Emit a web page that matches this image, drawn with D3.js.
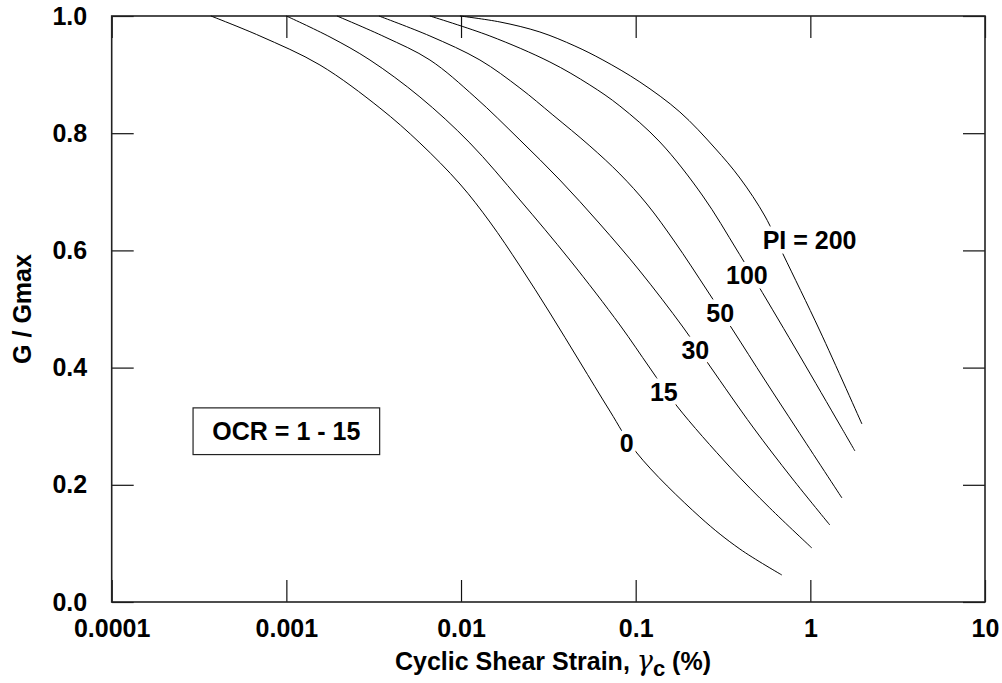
<!DOCTYPE html>
<html>
<head>
<meta charset="utf-8">
<script src="https://cdn.jsdelivr.net/npm/d3@7"></script>
<style>
  html, body { margin: 0; padding: 0; background: #fff; }
  svg { display: block; }
  text { font-family: "Liberation Sans", Arial, Helvetica, sans-serif; fill: #000; }
</style>
</head>
<body>
<svg id="chart" width="1002" height="683"></svg>
<script>
// ---- data ----
const xTickValues = [0.0001, 0.001, 0.01, 0.1, 1, 10];
const xTickLabels = ["0.0001", "0.001", "0.01", "0.1", "1", "10"];
const yTickValues = [0.0, 0.2, 0.4, 0.6, 0.8, 1.0];
const yTickLabels = ["0.0", "0.2", "0.4", "0.6", "0.8", "1.0"];

const piNames = ["0", "15", "30", "50", "100", "PI = 200"];

const strainPI0 = [0.00037, 0.000706, 0.001557, 0.003433, 0.005817, 0.00986, 0.01463, 0.02174, 0.03228, 0.04793, 0.07117, 0.1016, 0.2331, 0.3950, 0.6868];
const gPI0      = [1.0,     0.9659,   0.9164,   0.8430,   0.7833,   0.7133,  0.6485,  0.5734,  0.4932,  0.4096,  0.3259,  0.2543, 0.1451, 0.0904, 0.0461];

const strainPI15 = [0.001, 0.001777, 0.00301, 0.005817, 0.01124, 0.02174, 0.04201, 0.0812, 0.1206, 0.1721, 0.3461, 0.5863, 1.020];
const gPI15      = [1.0,   0.9642,   0.9249,  0.8618,   0.7833,  0.6860,  0.5836,  0.4727, 0.3993, 0.3345, 0.2304, 0.1604, 0.0922];

const strainPI30 = [0.001949, 0.003667, 0.006637, 0.01201, 0.02174, 0.03682, 0.06239, 0.1057, 0.1863, 0.2659, 0.4688, 0.7836, 1.293];
const gPI30      = [1.0,      0.9642,   0.9249,   0.8618,  0.7884,  0.7201,  0.6451,  0.5648, 0.4693, 0.4027, 0.2986, 0.2116, 0.1314];

const strainPI50 = [0.003389, 0.006637, 0.01283, 0.02174, 0.03357, 0.05467, 0.0812, 0.1159, 0.1677, 0.2556, 0.3600, 0.5491, 0.8369, 1.517];
const gPI50      = [1.0,      0.9659,   0.9249,  0.8771,  0.8311,  0.7782,  0.7304, 0.6792, 0.6143, 0.5324, 0.4642, 0.3788, 0.2952, 0.1775];

const strainPI100 = [0.006637, 0.01463, 0.03228, 0.05467, 0.0812, 0.1376, 0.2424, 0.3796, 0.5007, 0.8708, 1.477, 1.800];
const gPI100      = [1.0,      0.9659,  0.9215,  0.8823,  0.8464, 0.7850, 0.6928, 0.6007, 0.5410, 0.4198, 0.3020, 0.2577];

const strainPI200 = [0.00986, 0.0167, 0.02829, 0.04487, 0.06494, 0.1057, 0.1791, 0.2840, 0.3950, 0.5491, 0.6969, 1.135, 1.974];
const gPI200      = [1.0,     0.9898, 0.9727,  0.9488,  0.9249,  0.8874, 0.8362, 0.7747, 0.7235, 0.6587, 0.5939, 0.4625, 0.3038];

// label anchor positions (data coords)
const labelStrain = [0.0887, 0.145, 0.2197, 0.3046, 0.4331, 0.99];
const labelG      = [0.272,  0.359, 0.4306, 0.4927, 0.558,  0.618];

const ocrText = "OCR = 1 - 15";
const ocrStrain = 0.001, ocrG = 0.2915;

// ---- layout ----
const W = 1002, H = 683;
const margin = { left: 111.7, right: 17, top: 16, bottom: 81 };
const svg = d3.select("#chart");

const x = d3.scaleLog().domain([0.0001, 10]).range([margin.left, W - margin.right]);
const y = d3.scaleLinear().domain([0, 1]).range([H - margin.bottom, margin.top]);

const FS = 25;
const tickLen = 22;

// axes
const gx = svg.append("g").attr("transform", `translate(0,${y(0)})`)
  .call(d3.axisBottom(x).tickValues(xTickValues)
    .tickFormat((d, i) => xTickLabels[i]).tickSizeInner(-tickLen).tickSizeOuter(0).tickPadding(17));
const gxt = svg.append("g").attr("transform", `translate(0,${y(1)})`)
  .call(d3.axisTop(x).tickValues(xTickValues).tickFormat("").tickSizeInner(-tickLen).tickSizeOuter(0));
const gy = svg.append("g").attr("transform", `translate(${x(0.0001)},0)`)
  .call(d3.axisLeft(y).tickValues(yTickValues)
    .tickFormat((d, i) => yTickLabels[i]).tickSizeInner(-tickLen).tickSizeOuter(0).tickPadding(24.5));
const gyr = svg.append("g").attr("transform", `translate(${x(10)},0)`)
  .call(d3.axisRight(y).tickValues(yTickValues).tickFormat("").tickSizeInner(-tickLen).tickSizeOuter(0));

[gx, gxt, gy, gyr].forEach(g => {
  g.select(".domain").remove();
  g.selectAll(".tick line").attr("stroke", "#111").attr("stroke-width", 1.2);
  g.selectAll("text").attr("font-size", FS).attr("font-weight", "bold")
    .attr("font-family", '"Liberation Sans", Arial, sans-serif').attr("fill", "#000");
});

// frame
svg.append("rect")
  .attr("x", x(0.0001)).attr("y", y(1))
  .attr("width", x(10) - x(0.0001)).attr("height", y(0) - y(1))
  .attr("fill", "none").attr("stroke", "#222").attr("stroke-width", 1.6);

// curves
const curves = [
  [strainPI0, gPI0], [strainPI15, gPI15], [strainPI30, gPI30],
  [strainPI50, gPI50], [strainPI100, gPI100], [strainPI200, gPI200]
];
const line = d3.line().x(d => x(d[0])).y(d => y(d[1])).curve(d3.curveCatmullRom.alpha(0.5));
svg.append("g").selectAll("path")
  .data(curves.map(([s, g]) => s.map((v, i) => [v, g[i]])))
  .join("path")
  .attr("d", line)
  .attr("fill", "none").attr("stroke", "#000").attr("stroke-width", 1);

// curve labels (white halo hides the line beneath, like the gaps in the reference)
svg.append("g").selectAll("text")
  .data(piNames)
  .join("text")
  .attr("x", (d, i) => x(labelStrain[i]))
  .attr("y", (d, i) => y(labelG[i]))
  .attr("dy", "0.36em")
  .attr("text-anchor", "middle")
  .attr("font-size", FS).attr("font-weight", "bold")
  .attr("stroke", "#fff").attr("stroke-width", 9).attr("paint-order", "stroke")
  .attr("stroke-linejoin", "round")
  .text(d => d);

// OCR box
const ocr = svg.append("g");
ocr.append("rect")
  .attr("x", x(ocrStrain) - 93.3).attr("y", y(ocrG) - 23.3)
  .attr("width", 186.6).attr("height", 46.7)
  .attr("fill", "#fff").attr("stroke", "#222").attr("stroke-width", 1.2);
ocr.append("text")
  .attr("x", x(ocrStrain)).attr("y", y(ocrG)).attr("dy", "0.36em")
  .attr("text-anchor", "middle").attr("font-size", FS).attr("font-weight", "bold")
  .text(ocrText);

// axis titles
const xt = svg.append("text")
  .attr("x", 395).attr("y", 670)
  .attr("font-size", FS).attr("font-weight", "bold");
xt.append("tspan").text("Cyclic Shear Strain, ");
xt.append("tspan").text("γ").attr("font-family", '"DejaVu Serif", serif')
  .attr("font-style", "italic").attr("font-weight", "normal").attr("font-size", 27);
xt.append("tspan").text("c").attr("dy", 6).attr("font-size", 22);
xt.append("tspan").text(" (%)").attr("dy", -6);

svg.append("text")
  .attr("transform", `translate(31,${(y(0) + y(1)) / 2}) rotate(-90)`)
  .attr("text-anchor", "middle")
  .attr("font-size", FS).attr("font-weight", "bold")
  .text("G / Gmax");
</script>
</body>
</html>
